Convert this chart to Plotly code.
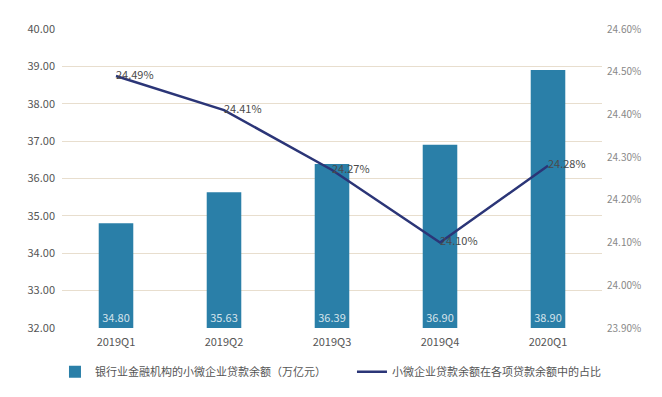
import plotly.graph_objects as go

categories = ["2019Q1", "2019Q2", "2019Q3", "2019Q4", "2020Q1"]
loan_balance = [34.80, 35.63, 36.39, 36.90, 38.90]
loan_share = [24.49, 24.41, 24.27, 24.10, 24.28]
bar_name = "银行业金融机构的小微企业贷款余额（万亿元）"
line_name = "小微企业贷款余额在各项贷款余额中的占比"
axis_min = 32

FONT = "Noto Sans CJK SC, Noto Sans, sans-serif"

fig = go.Figure()
fig.add_trace(go.Bar(
    x=categories, y=[v - axis_min for v in loan_balance], base=axis_min,
    name=bar_name,
    marker=dict(color="#2a7fa8", line=dict(width=0)),
    width=0.32,
    text=[f"{v:.2f}" for v in loan_balance],
    textposition="inside", insidetextanchor="start",
    textfont=dict(color="rgba(255,255,255,0.8)", size=11, family=FONT),
    hovertext=[f"{v:.2f}" for v in loan_balance],
))
fig.add_trace(go.Scatter(
    x=categories, y=loan_share, name=line_name, yaxis="y2",
    mode="lines+text",
    line=dict(color="#2b3577", width=2.5),
    text=[f"{v:.2f}%" for v in loan_share],
    textposition="middle right",
    textfont=dict(color="#4a4a4a", size=11, family=FONT),
    cliponaxis=False,
))

fig.update_layout(
    width=662, height=397,
    margin=dict(l=54, r=68, t=21, b=77, autoexpand=False),
    paper_bgcolor="white", plot_bgcolor="white",
    font=dict(family=FONT, color="#555555", size=11),
    showlegend=True,
    legend=dict(orientation="h", x=-0.013, y=-0.098, xanchor="left", yanchor="top",
                font=dict(size=11, color="#555555"),
                entrywidth=252, entrywidthmode="pixels",
                traceorder="normal"),
    xaxis=dict(showgrid=False, showline=False, ticks="", ticklabelstandoff=6,
               tickfont=dict(size=11, color="#555555")),
    yaxis=dict(range=[32, 40], dtick=1, tickformat=".2f",
               showgrid=True, gridcolor="#e8dece", gridwidth=1,
               zeroline=False, showline=False, ticks="", ticklabelstandoff=6,
               tickfont=dict(size=11, color="#555555")),
    yaxis2=dict(range=[23.9, 24.6], dtick=0.1, tickformat=".2f", ticksuffix="%",
                overlaying="y", side="right", showgrid=False, zeroline=False,
                showline=False, ticks="", ticklabelstandoff=4,
                tickfont=dict(size=10, color="#888888")),
)

fig.write_html("out.html")
